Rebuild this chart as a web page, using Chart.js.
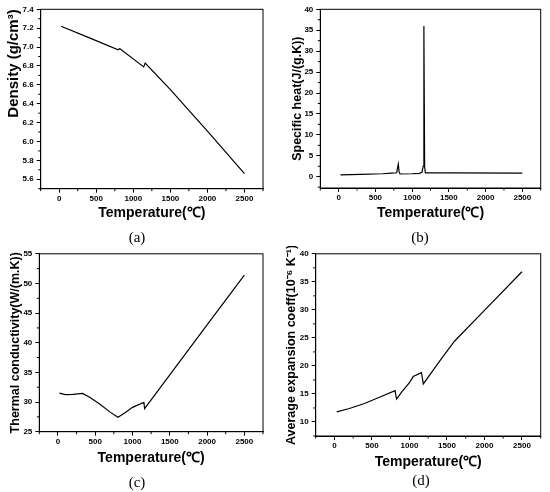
<!DOCTYPE html>
<html>
<head>
<meta charset="utf-8">
<script src="https://cdn.jsdelivr.net/npm/chart.js@4.4.0/dist/chart.umd.min.js"></script>
<style>
body { margin: 0; background: #fff; width: 550px; height: 492px; position: relative; overflow: hidden; }
.panel { position: absolute; width: 275px; height: 246px; }
.cap { position: absolute; font-family: "Liberation Serif", "DejaVu Serif", serif; font-size: 15px; color: #000; transform: translate(-50%, -50%); }
</style>
</head>
<body>
<div class="panel" style="left:0;top:0"><canvas id="chartA"></canvas></div>
<div class="panel" style="left:275px;top:0"><canvas id="chartB"></canvas></div>
<div class="panel" style="left:0;top:246px"><canvas id="chartC"></canvas></div>
<div class="panel" style="left:275px;top:246px"><canvas id="chartD"></canvas></div>
<div class="cap" style="left:137px;top:237px">(a)</div>
<div class="cap" style="left:420px;top:237px">(b)</div>
<div class="cap" style="left:137px;top:482px">(c)</div>
<div class="cap" style="left:421px;top:480px">(d)</div>
<script>
// shared temperature ticks
var xTicks = [0, 500, 1000, 1500, 2000, 2500];

// (a) density
var aTemp = [25, 400, 795, 815, 1140, 1160, 1500, 2000, 2500];
var aDensity = [7.22, 7.10, 6.97, 6.985, 6.79, 6.83, 6.55, 6.11, 5.66];
var aTicks = [5.6, 5.8, 6.0, 6.2, 6.4, 6.6, 6.8, 7.0, 7.2, 7.4];

// (b) specific heat
var bTemp = [25, 300, 600, 720, 790, 800, 812, 822, 835, 1000, 1100, 1135, 1150, 1160, 1170, 1180, 1500, 2500];
var bHeat = [0.45, 0.55, 0.7, 0.85, 0.95, 2.0, 3.0, 1.2, 0.65, 0.7, 0.8, 1.1, 2.5, 36, 2.5, 0.9, 0.9, 0.85];
var bTicks = [0, 5, 10, 15, 20, 25, 30, 35, 40];

// (c) thermal conductivity
var cTemp = [20, 100, 200, 330, 425, 555, 700, 805, 900, 1000, 1090, 1130, 1145, 1152, 1162, 1500, 2000, 2500];
var cCond = [31.5, 31.25, 31.3, 31.45, 30.8, 29.7, 28.3, 27.45, 28.2, 29.1, 29.6, 29.85, 29.8, 30.05, 28.9, 34.6, 43.0, 51.4];
var cTicks = [25, 30, 35, 40, 45, 50, 55];

// (d) average expansion coefficient
var dTemp = [30, 200, 400, 600, 808, 828, 900, 1000, 1050, 1160, 1185, 1400, 1600, 2000, 2500];
var dExp = [11.8, 12.4, 13.3, 14.4, 15.6, 14.1, 15.4, 17.0, 18.1, 18.8, 16.8, 20.8, 24.4, 29.9, 36.8];
var dTicks = [10, 15, 20, 25, 30, 35, 40];

var sans = '"Liberation Sans", Arial, sans-serif';

function minorValues(scale) {
    var t = scale.ticks.map(function (k) { return k.value; });
    var step = t[1] - t[0];
    var out = [];
    for (var v = t[0] - step / 2; v <= scale.max + 1e-9; v += step) {
        if (v >= scale.min - 1e-9) out.push(v);
    }
    return out;
}

// box frame + minor ticks like the original plots
var frame = {
    id: 'frame',
    afterDraw: function (chart) {
        var ctx = chart.ctx, a = chart.chartArea;
        var xs = chart.scales.x, ys = chart.scales.y;
        ctx.save();
        ctx.strokeStyle = '#000';
        ctx.lineWidth = 1;
        ctx.strokeRect(a.left, a.top, a.right - a.left, a.bottom - a.top);
        ctx.beginPath();
        minorValues(xs).forEach(function (v) {
            var p = xs.getPixelForValue(v);
            ctx.moveTo(p, a.bottom); ctx.lineTo(p, a.bottom + 2.5);
        });
        minorValues(ys).forEach(function (v) {
            var p = ys.getPixelForValue(v);
            ctx.moveTo(a.left, p); ctx.lineTo(a.left - 2.5, p);
        });
        ctx.stroke();
        ctx.restore();
    }
};

function makeChart(id, o) {
    var points = o.x.map(function (t, i) { return { x: t, y: o.y[i] }; });
    return new Chart(document.getElementById(id), {
        type: 'line',
        data: {
            datasets: [{
                data: points,
                borderColor: '#000',
                borderWidth: 1.2,
                pointRadius: 0,
                tension: 0,
                fill: false
            }]
        },
        options: {
            responsive: true,
            maintainAspectRatio: false,
            animation: false,
            layout: {
                padding: { top: o.top, right: 275 - o.right, bottom: 246 - o.titleY - 8.4, left: 0 }
            },
            plugins: { legend: { display: false }, tooltip: { enabled: false } },
            scales: {
                x: {
                    type: 'linear',
                    min: -250,
                    max: 2750,
                    afterBuildTicks: function (s) { s.ticks = xTicks.map(function (v) { return { value: v }; }); },
                    afterFit: function (s) { s.height = o.titleY + 8.4 - o.bottom; },
                    grid: { drawOnChartArea: false, drawTicks: true, tickLength: 4, color: '#000' },
                    border: { color: '#000', width: 1 },
                    ticks: {
                        color: '#000', padding: 1, maxRotation: 0,
                        font: { family: sans, size: 8, weight: 'bold' },
                        callback: function (v) { return String(v); }
                    },
                    title: {
                        display: true, text: 'Temperature(℃)', color: '#000', padding: 0,
                        font: { family: sans, size: 14, weight: 'bold' }
                    }
                },
                y: {
                    type: 'linear',
                    min: o.yMin,
                    max: o.yMax,
                    afterBuildTicks: function (s) { s.ticks = o.yTicks.map(function (v) { return { value: v }; }); },
                    afterFit: function (s) { s.width = o.left; },
                    grid: { drawOnChartArea: false, drawTicks: true, tickLength: 4, color: '#000' },
                    border: { color: '#000', width: 1 },
                    ticks: {
                        color: '#000', padding: 3,
                        font: { family: sans, size: 8, weight: 'bold' },
                        callback: function (v) { return v.toFixed(o.dec); }
                    },
                    title: {
                        display: true, text: o.yTitle, color: '#000', align: o.yAlign || 'center',
                        padding: { top: o.yPad, bottom: 0 },
                        font: { family: sans, size: o.ySize, weight: 'bold' }
                    }
                }
            }
        },
        plugins: [frame]
    });
}

makeChart('chartA', {
    x: aTemp, y: aDensity, yTicks: aTicks, yMin: 5.5, yMax: 7.4, dec: 1,
    yTitle: 'Density (g/cm³)', ySize: 15, yPad: 5, yAlign: 'end',
    left: 40.7, right: 263, top: 9.3, bottom: 188.7, titleY: 213
});
makeChart('chartB', {
    x: bTemp, y: bHeat, yTicks: bTicks, yMin: -2.7, yMax: 40, dec: 0,
    yTitle: 'Specific heat(J/(g.K))', ySize: 12.5, yPad: 15.5,
    left: 45.3, right: 265.7, top: 9.3, bottom: 188, titleY: 213.3
});
makeChart('chartC', {
    x: cTemp, y: cCond, yTicks: cTicks, yMin: 25, yMax: 55, dec: 0,
    yTitle: 'Thermal conductivity(W/(m.K))', ySize: 12.5, yPad: 8.5,
    left: 39.3, right: 263, top: 5, bottom: 185.7, titleY: 211.7
});
makeChart('chartD', {
    x: dTemp, y: dExp, yTicks: dTicks, yMin: 7.5, yMax: 40, dec: 0,
    yTitle: 'Average expansion coeff(10⁻⁶ K⁻¹)', ySize: 12.5, yPad: 9,
    left: 40.7, right: 265.7, top: 5.7, bottom: 190, titleY: 215.7
});
</script>
</body>
</html>
